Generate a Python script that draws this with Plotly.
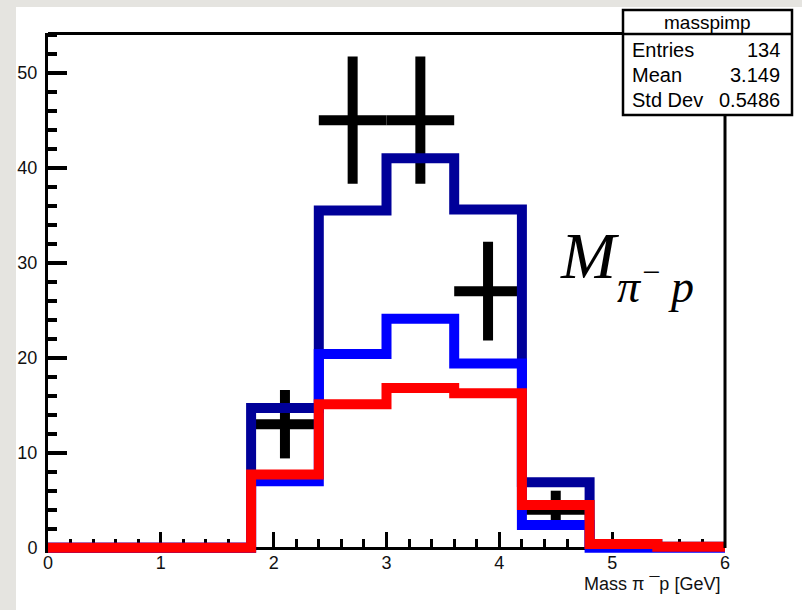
import plotly.graph_objects as go

# ---------------- data ----------------
bin_edges = [0.0, 0.6, 1.2, 1.8, 2.4, 3.0, 3.6, 4.2, 4.8, 5.4, 6.0]
dark_blue_counts = [0, 0, 0, 14.7, 35.5, 41.0, 35.6, 6.9, 0.4, 0.1]
blue_counts = [0, 0, 0, 7.0, 20.4, 24.1, 19.4, 2.4, 0.0, 0.0]
red_counts = [0, 0, 0, 7.7, 15.1, 16.8, 16.25, 4.5, 0.4, 0.1]

data_x = [2.1, 2.7, 3.3, 3.9, 4.5]
data_y = [13, 45, 45, 27, 4]
data_err_y = [3.6, 6.7, 6.7, 5.2, 2.0]
data_err_x = [0.3, 0.3, 0.3, 0.3, 0.3]

x_ticks = [0, 1, 2, 3, 4, 5, 6]
y_ticks = [0, 10, 20, 30, 40, 50]

stats_title = "masspimp"
stats_labels = ["Entries", "Mean", "Std Dev"]
stats_values = ["134", "3.149", "0.5486"]

# ---------------- layout geometry ----------------
W_FIG, H_FIG = 802, 610
L, R, T, B = 48, 725, 33, 553
PW, PH = R - L, B - T
Y_TOP = 54.18
Y_BOT = Y_TOP - PH / 9.5


def px(x):
    return (x - L) / PW


def py(y):
    return (B - y) / PH


def step(vals):
    return list(vals) + [vals[-1]]


fig = go.Figure()

# data crosses (drawn first, histograms on top)
fig.add_trace(go.Scatter(
    x=data_x, y=data_y, mode="markers",
    marker=dict(size=1, color="black"),
    error_y=dict(type="data", array=data_err_y, thickness=10, width=0, color="black"),
    error_x=dict(type="data", array=data_err_x, thickness=10, width=0, color="black"),
    showlegend=False, hoverinfo="skip",
))

for vals, col in [(dark_blue_counts, "#000099"), (blue_counts, "#0000ff"), (red_counts, "#ff0000")]:
    fig.add_trace(go.Scatter(
        x=bin_edges, y=step(vals), mode="lines",
        line=dict(shape="hv", color=col, width=10),
        showlegend=False, hoverinfo="skip",
    ))

font_sans = "Liberation Sans, Arial, sans-serif"

fig.update_layout(
    width=W_FIG, height=H_FIG,
    margin=dict(l=L, r=W_FIG - R, t=T, b=H_FIG - B, pad=0),
    paper_bgcolor="white", plot_bgcolor="white",
    showlegend=False,
    xaxis=dict(
        range=[0, 6], tickvals=x_ticks, ticktext=[str(v) for v in x_ticks],
        anchor="free", position=(-Y_BOT) / (Y_TOP - Y_BOT),
        showline=True, linecolor="black", linewidth=3,
        ticks="inside", ticklen=15, tickwidth=3, tickcolor="black",
        minor=dict(dtick=0.2, ticks="inside", ticklen=8, tickwidth=3, tickcolor="black", showgrid=False),
        showgrid=False, zeroline=False, layer="below traces",
        tickfont=dict(family=font_sans, size=18, color="#111"),
        ticklabelstandoff=-2,
    ),
    yaxis=dict(
        range=[Y_BOT, Y_TOP], tickvals=y_ticks, ticktext=[str(v) for v in y_ticks],
        showline=True, linecolor="black", linewidth=3,
        ticks="inside", ticklen=19, tickwidth=3.5, tickcolor="black",
        minor=dict(dtick=2, ticks="inside", ticklen=9, tickwidth=3.5, tickcolor="black", showgrid=False),
        showgrid=False, zeroline=False, layer="below traces",
        tickfont=dict(family=font_sans, size=18, color="#111"),
        ticklabelstandoff=4,
    ),
)

shapes = []
# gray page border (left and top)
shapes.append(dict(type="rect", xref="paper", yref="paper", x0=px(0), x1=px(16), y0=py(H_FIG), y1=py(0),
                   fillcolor="#e5e4e0", line=dict(width=0), layer="below"))
shapes.append(dict(type="rect", xref="paper", yref="paper", x0=px(0), x1=px(W_FIG), y0=py(7), y1=py(0),
                   fillcolor="#e5e4e0", line=dict(width=0), layer="below"))
# frame: top and right
shapes.append(dict(type="line", xref="paper", yref="paper", x0=px(L), x1=px(623), y0=py(33.5), y1=py(33.5),
                   line=dict(color="black", width=3), layer="above"))
shapes.append(dict(type="line", xref="paper", yref="paper", x0=px(R), x1=px(R), y0=py(115), y1=py(548),
                   line=dict(color="black", width=3), layer="above"))
# stats box
shapes.append(dict(type="rect", xref="paper", yref="paper", x0=px(623), x1=px(792), y0=py(115), y1=py(10),
                   fillcolor="white", line=dict(color="black", width=2.5), layer="above"))
shapes.append(dict(type="line", xref="paper", yref="paper", x0=px(623), x1=px(792), y0=py(34), y1=py(34),
                   line=dict(color="black", width=2.5), layer="above"))
fig.update_layout(shapes=shapes)

ann = []
ann.append(dict(text=stats_title, x=px(707), y=py(22), xref="paper", yref="paper",
                xanchor="center", yanchor="middle", showarrow=False,
                font=dict(family=font_sans, size=19, color="black")))
for i, (lab, val) in enumerate(zip(stats_labels, stats_values)):
    yy = py(50 + 25 * i)
    ann.append(dict(text=lab, x=px(630), y=yy, xref="paper", yref="paper",
                    xanchor="left", yanchor="middle", showarrow=False,
                    font=dict(family=font_sans, size=20, color="black")))
    ann.append(dict(text=val, x=px(782), y=yy, xref="paper", yref="paper",
                    xanchor="right", yanchor="middle", showarrow=False,
                    font=dict(family=font_sans, size=20, color="black")))
# axis title
ann.append(dict(text="Mass π ¯p [GeV]", x=px(722), y=py(584), xref="paper", yref="paper",
                xanchor="right", yanchor="middle", showarrow=False,
                font=dict(family=font_sans, size=18, color="#111")))
# M_{pi- p}
ann.append(dict(text="<i>M</i>", x=px(558), y=py(255), xref="paper", yref="paper",
                xanchor="left", yanchor="middle", showarrow=False,
                font=dict(family="Liberation Serif, Times New Roman, serif", size=66, color="black")))
ann.append(dict(text="<i>π<sup>−</sup>\u2009p</i>", x=px(615), y=py(283), xref="paper", yref="paper",
                xanchor="left", yanchor="middle", showarrow=False,
                font=dict(family="Liberation Serif, Times New Roman, serif", size=46, color="black")))
fig.update_layout(annotations=ann)

fig.write_html("out.html", config={"displayModeBar": False},
               post_script="document.body.style.margin='0px';")
